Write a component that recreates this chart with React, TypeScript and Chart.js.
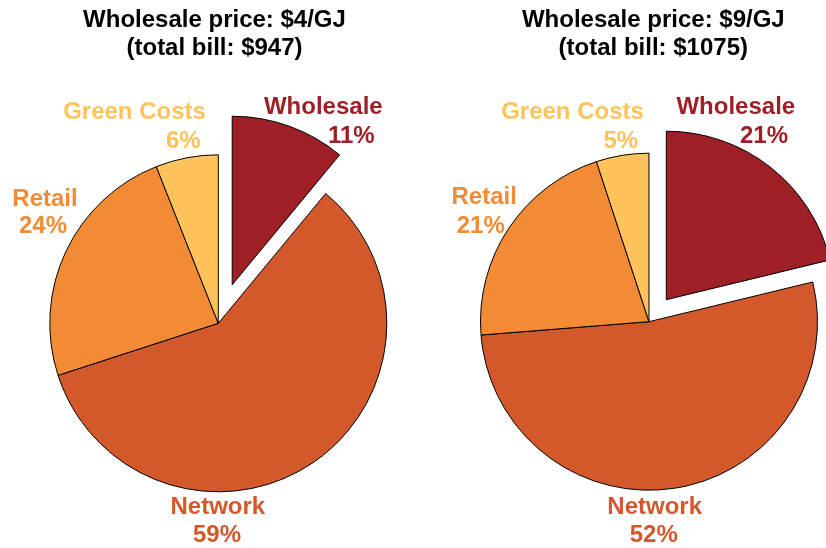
import React, { useEffect, useRef } from "react";
import { Chart, registerables } from "chart.js";

Chart.register(...registerables);

// ---- data ----
const categories = ["Wholesale", "Network", "Retail", "Green Costs"];
const sharesLow = [11, 59, 24, 6];
const sharesHigh = [21, 52, 21, 5];
const titleLow = ["Wholesale price: $4/GJ", "(total bill: $947)"];
const titleHigh = ["Wholesale price: $9/GJ", "(total bill: $1075)"];

// ---- styles / layout ----
const colors = ["#9E2026", "#D4592A", "#F38B35", "#FFC35C"];
const FONT = "bold 24px 'Liberation Sans', Arial, Helvetica, sans-serif";
const RADIUS = 168.5;

// label line offsets relative to pie centre: [nameLine, pctLine] per category
const labelLayoutLow = [
  [[105, -209], [133, -180]],
  [[-0.5, 191], [-1.3, 219]],
  [[-173.3, -117.6], [-175.3, -90]],
  [[-83.8, -204], [-35, -175]],
];
const labelLayoutHigh = [
  [[86.8, -207.4], [115, -178.4]],
  [[5.7, 192.6], [4.7, 220.6]],
  [[-164.8, -117.4], [-168.3, -89]],
  [[-76.5, -202.4], [-28.2, -173.4]],
];

type PieCfg = {
  values: number[];
  title: string[];
  titleDx: number;
  layout: number[][][];
  explode: number;
  padding: { left: number; right: number; top: number; bottom: number };
};

const pieLow: PieCfg = {
  values: sharesLow,
  title: titleLow,
  titleDx: -3.8,
  layout: labelLayoutLow,
  explode: 41,
  padding: { left: 0, right: 389.4, top: 98.6, bottom: 0 },
};
const pieHigh: PieCfg = {
  values: sharesHigh,
  title: titleHigh,
  titleDx: 4.3,
  layout: labelLayoutHigh,
  explode: 28,
  padding: { left: 472, right: 0, top: 95.4, bottom: 0 },
};

function makePlugin(cfg: PieCfg) {
  return {
    id: "pieDecor",
    beforeDatasetsDraw(chart: any) {
      const ca = chart.chartArea;
      const cx = (ca.left + ca.right) / 2;
      const cy = (ca.top + ca.bottom) / 2;
      const meta = chart.getDatasetMeta(0);
      const arc: any = meta.data[0];
      if (arc) {
        const mid = (arc.startAngle + arc.endAngle) / 2;
        arc.x = cx + Math.cos(mid) * cfg.explode;
        arc.y = cy + Math.sin(mid) * cfg.explode;
      }
    },
    afterDraw(chart: any) {
      const ctx = chart.ctx;
      const ca = chart.chartArea;
      const cx = (ca.left + ca.right) / 2;
      const cy = (ca.top + ca.bottom) / 2;
      ctx.save();
      ctx.font = FONT;
      ctx.textAlign = "center";
      ctx.textBaseline = "alphabetic";
      ctx.fillStyle = "#000";
      ctx.fillText(cfg.title[0], cx + cfg.titleDx, 26.7);
      ctx.fillText(cfg.title[1], cx + cfg.titleDx, 55);
      categories.forEach((name, i) => {
        const lay = cfg.layout[i];
        ctx.fillStyle = colors[i];
        ctx.fillText(name, cx + lay[0][0], cy + lay[0][1]);
        ctx.fillText(cfg.values[i] + "%", cx + lay[1][0], cy + lay[1][1]);
      });
      ctx.restore();
    },
  };
}

function PieCanvas({ cfg }: { cfg: PieCfg }) {
  const ref = useRef<HTMLCanvasElement>(null);
  useEffect(() => {
    if (!ref.current) return;
    const chart = new Chart(ref.current, {
      type: "pie",
      data: {
        labels: categories,
        datasets: [
          {
            data: cfg.values,
            backgroundColor: colors,
            borderColor: "#000",
            borderWidth: 1,
            radius: RADIUS,
          } as any,
        ],
      },
      options: {
        responsive: false,
        animation: false,
        devicePixelRatio: 1,
        layout: { padding: cfg.padding },
        plugins: {
          legend: { display: false },
          tooltip: { enabled: false },
          title: { display: false },
        },
        events: [],
      },
      plugins: [makePlugin(cfg)],
    });
    return () => chart.destroy();
  }, [cfg]);
  return (
    <canvas
      ref={ref}
      width={826}
      height={548}
      style={{ position: "absolute", left: 0, top: 0, width: 826, height: 548 }}
    />
  );
}

export default function App() {
  return (
    <div
      style={{
        position: "fixed",
        left: 0,
        top: 0,
        width: 826,
        height: 548,
        background: "#fff",
        overflow: "hidden",
      }}
    >
      <PieCanvas cfg={pieLow} />
      <PieCanvas cfg={pieHigh} />
    </div>
  );
}
